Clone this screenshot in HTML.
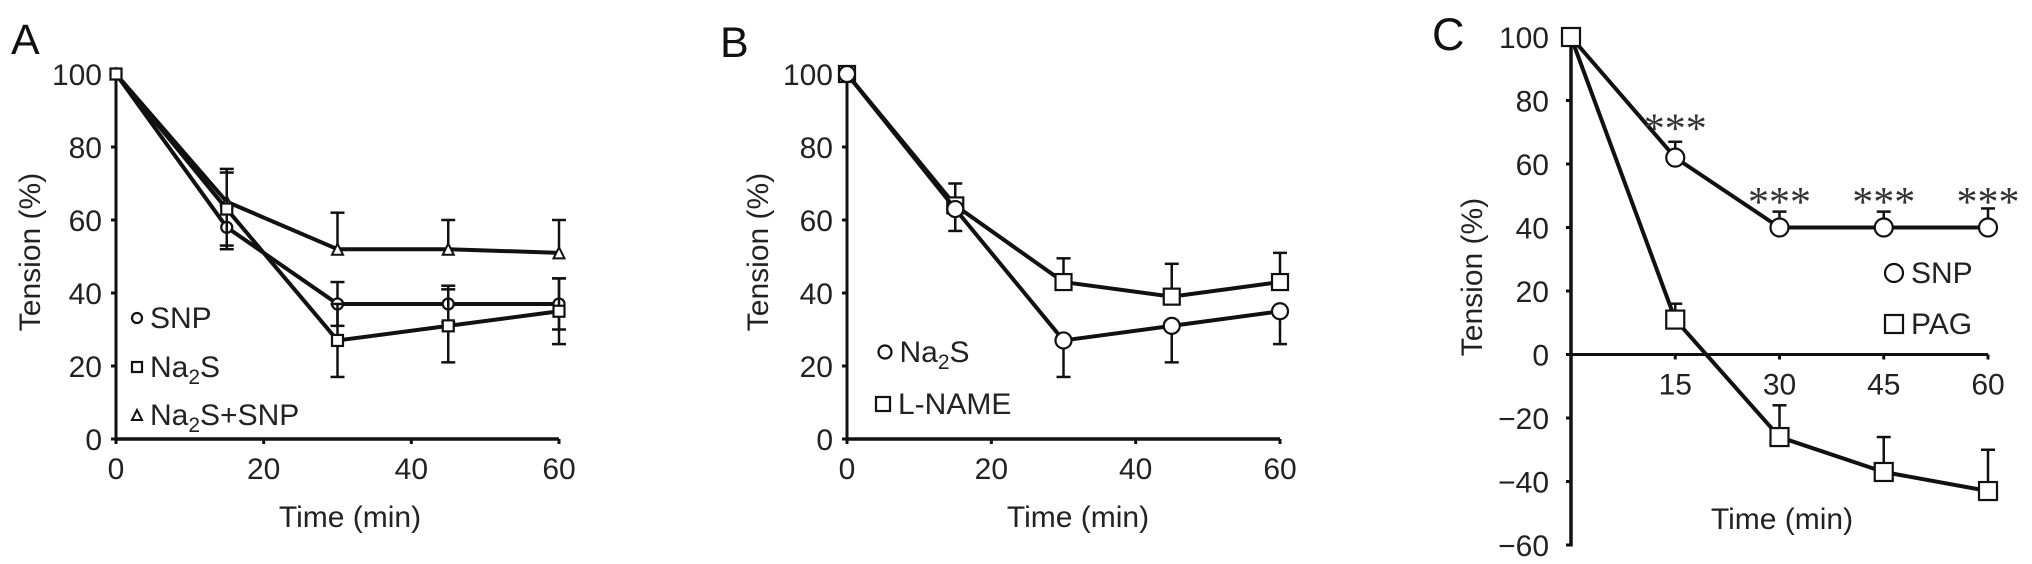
<!DOCTYPE html>
<html><head><meta charset="utf-8"><style>
html,body{margin:0;padding:0;background:#fff;width:2032px;height:564px;overflow:hidden}
svg{display:block;font-family:"Liberation Sans",sans-serif}
</style></head><body>
<svg id="chart" width="2032" height="564" viewBox="0 0 2032 564" xmlns="http://www.w3.org/2000/svg"></svg>
<script>
// ---- data ----
const timesAB = [0, 15, 30, 45, 60];
const timesC = [0, 15, 30, 45, 60];
// Panel A
const aSNP = [100, 58, 37, 37, 37];
const aSNPerr = [0, 6, 6, 5, 7];
const aNa2S = [100, 63, 27, 31, 35];
const aNa2Serr = [0, 10, 10, 10, 9];
const aCombo = [100, 65, 52, 52, 51];
const aComboErr = [0, 9, 10, 8, 9];
// Panel B
const bNa2S = [100, 63, 27, 31, 35];
const bNa2Serr = [0, 6, 10, 10, 9];
const bLNAME = [100, 64, 43, 39, 43];
const bLNAMEerr = [0, 6, 6.5, 9, 8];
// Panel C
const cSNP = [100, 62, 40, 40, 40];
const cSNPerr = [0, 5, 5, 5, 6];
const cPAG = [100, 11, -26, -37, -43];
const cPAGerr = [0, 5, 10, 11, 13];
const cStarY = [null, 73, 50, 50, 50];
const ticksAB_Y = [0, 20, 40, 60, 80, 100];
const ticksAB_X = [0, 20, 40, 60];
const ticksC_Y = [-60, -40, -20, 0, 20, 40, 60, 80, 100];
const ticksC_X = [15, 30, 45, 60];

const svg = document.getElementById('chart');
const NS = 'http://www.w3.org/2000/svg';
function el(tag, attrs, parent) {
  const e = document.createElementNS(NS, tag);
  for (const k in attrs) e.setAttribute(k, attrs[k]);
  (parent || svg).appendChild(e);
  return e;
}
function txt(s, attrs, parent) { const t = el('text', attrs, parent); t.textContent = s; return t; }

function marker(shape, x, y, size, g) {
  let m;
  if (shape === 'circle') m = el('circle', {cx: x, cy: y, r: size / 2, fill: '#fff', stroke: '#111', 'stroke-width': 2.2}, g);
  else if (shape === 'square') m = el('rect', {x: x - size / 2, y: y - size / 2, width: size, height: size, fill: '#fff', stroke: '#111', 'stroke-width': 2.2}, g);
  else m = el('polygon', {points: `${x},${y - size / 2} ${x + size / 2},${y + size / 2} ${x - size / 2},${y + size / 2}`, fill: '#fff', stroke: '#111', 'stroke-width': 2}, g);
  return m;
}

function series(g, xs, ys, errs, sx, sy, shape, size, dirUp, dirDown, name) {
  const sg = el('g', {}, g);
  
  
  xs.forEach((t, i) => {
    if (!errs[i]) return;
    const x = sx(t);
    if (dirUp) {
      const l = el('line', {x1: x, x2: x, y1: sy(ys[i]), y2: sy(ys[i] + errs[i]), stroke: '#111', 'stroke-width': 2.5}, sg);
      
      
      el('line', {x1: x - 7, x2: x + 7, y1: sy(ys[i] + errs[i]), y2: sy(ys[i] + errs[i]), stroke: '#111', 'stroke-width': 2.5}, sg);
    }
    if (dirDown) {
      const l = el('line', {x1: x, x2: x, y1: sy(ys[i]), y2: sy(ys[i] - errs[i]), stroke: '#111', 'stroke-width': 2.5}, sg);
      
      
      el('line', {x1: x - 7, x2: x + 7, y1: sy(ys[i] - errs[i]), y2: sy(ys[i] - errs[i]), stroke: '#111', 'stroke-width': 2.5}, sg);
    }
  });
  const pts = xs.map((t, i) => sx(t) + ',' + sy(ys[i])).join(' ');
  const pl = el('polyline', {points: pts, fill: 'none', stroke: '#111', 'stroke-width': 4, 'stroke-linejoin': 'round'}, sg);
  
  
  xs.forEach((t, i) => {
    const m = marker(shape, sx(t), sy(ys[i]), size, sg);
    
    
  });
}

function legendItem(g, shape, x, y, size, label, sub, rest, name) {
  const lg = el('g', {}, g);
  
  
  marker(shape, x, y, size, lg);
  const t = el('text', {x: x + size / 2 + 8, y: y + 10, 'font-size': 30, fill: '#222'}, lg);
  t.appendChild(document.createTextNode(label));
  if (sub) {
    const ts = el('tspan', {'font-size': 21, dy: 7}, t); ts.textContent = sub;
    const tr = el('tspan', {dy: -7}, t); tr.textContent = rest;
  }
}

function axesAB(g, x0, x1, sx, sy) {
  const ax = el('g', {}, g);
  
  
  el('line', {x1: x0, x2: x0, y1: sy(100), y2: sy(0) + 1.5, stroke: '#111', 'stroke-width': 3}, ax);
  el('line', {x1: x0, x2: x1, y1: sy(0), y2: sy(0), stroke: '#111', 'stroke-width': 3.5}, ax);
  ticksAB_Y.forEach(v => {
    el('line', {x1: x0 - 5, x2: x0, y1: sy(v), y2: sy(v), stroke: '#111', 'stroke-width': 3}, ax);
    const t = txt(String(v), {x: x0 - 14, y: sy(v) + 11, 'text-anchor': 'end', 'font-size': 30, fill: '#222'}, ax);
    
    
  });
  ticksAB_X.forEach(v => {
    el('line', {x1: sx(v), x2: sx(v), y1: sy(0), y2: sy(0) + 5, stroke: '#111', 'stroke-width': 3}, ax);
    const t = txt(String(v), {x: sx(v), y: sy(0) + 40, 'text-anchor': 'middle', 'font-size': 30, fill: '#222'}, ax);
    
    
  });
}

// ---------- Panel A ----------
(function () {
  const g = el('g', {});
  
  
  const X0 = 116, X1 = 559;
  const sx = t => X0 + (X1 - X0) * t / 60;
  const sy = v => 439 - v * 3.65;
  txt('A', {x: 11, y: 54, 'font-size': 43, fill: '#111'}, g);
  axesAB(g, X0, X1, sx, sy);
  const yt = txt('Tension (%)', {x: 0, y: 0, transform: 'translate(40,252) rotate(-90)', 'text-anchor': 'middle', 'font-size': 30, fill: '#222'}, g);
  
  const xt = txt('Time (min)', {x: 350, y: 527, 'text-anchor': 'middle', 'font-size': 30, fill: '#222'}, g);
  
  series(g, timesAB, aCombo, aComboErr, sx, sy, 'triangle', 11, true, false, 'series-na2s-snp');
  series(g, timesAB, aSNP, aSNPerr, sx, sy, 'circle', 11, true, true, 'series-snp');
  series(g, timesAB, aNa2S, aNa2Serr, sx, sy, 'square', 11, true, true, 'series-na2s');
  legendItem(g, 'circle', 137, 318, 10, 'SNP', null, null, 'legend-snp');
  legendItem(g, 'square', 137, 367, 10, 'Na', '2', 'S', 'legend-na2s');
  legendItem(g, 'triangle', 137, 415, 10, 'Na', '2', 'S+SNP', 'legend-na2s-snp');
})();

// ---------- Panel B ----------
(function () {
  const g = el('g', {});
  
  
  const X0 = 847, X1 = 1280;
  const sx = t => X0 + (X1 - X0) * t / 60;
  const sy = v => 439 - v * 3.65;
  txt('B', {x: 720, y: 57, 'font-size': 43, fill: '#111'}, g);
  axesAB(g, X0, X1, sx, sy);
  const yt = txt('Tension (%)', {x: 0, y: 0, transform: 'translate(768,252) rotate(-90)', 'text-anchor': 'middle', 'font-size': 30, fill: '#222'}, g);
  
  const xt = txt('Time (min)', {x: 1078, y: 527, 'text-anchor': 'middle', 'font-size': 30, fill: '#222'}, g);
  
  series(g, timesAB, bLNAME, bLNAMEerr, sx, sy, 'square', 16, true, false, 'series-l-name');
  series(g, timesAB, bNa2S, bNa2Serr, sx, sy, 'circle', 16, false, true, 'series-na2s');
  legendItem(g, 'circle', 885, 352, 13, 'Na', '2', 'S', 'legend-na2s');
  legendItem(g, 'square', 883, 404, 14, 'L-NAME', null, null, 'legend-l-name');
})();

// ---------- Panel C ----------
(function () {
  const g = el('g', {});
  
  
  const X0 = 1571, X1 = 1988;
  const sx = t => X0 + (X1 - X0) * t / 60;
  const sy = v => 354.5 - v * 3.175;
  txt('C', {x: 1432, y: 50, 'font-size': 45, fill: '#111'}, g);
  const ax = el('g', {}, g);
  
  
  el('line', {x1: X0, x2: X0, y1: sy(100), y2: sy(-60) + 1.5, stroke: '#111', 'stroke-width': 3.5}, ax);
  el('line', {x1: X0, x2: X1, y1: sy(0), y2: sy(0), stroke: '#111', 'stroke-width': 3}, ax);
  ticksC_Y.forEach(v => {
    el('line', {x1: X0 - 5, x2: X0, y1: sy(v), y2: sy(v), stroke: '#111', 'stroke-width': 3}, ax);
    const t = txt(v < 0 ? '\u2212' + Math.abs(v) : String(v), {x: X0 - 22, y: sy(v) + 11, 'text-anchor': 'end', 'font-size': 30, fill: '#222'}, ax);
    
    
  });
  ticksC_X.forEach(v => {
    el('line', {x1: sx(v), x2: sx(v), y1: sy(0), y2: sy(0) + 5, stroke: '#111', 'stroke-width': 3}, ax);
    const t = txt(String(v), {x: sx(v), y: sy(0) + 40, 'text-anchor': 'middle', 'font-size': 30, fill: '#222'}, ax);
    
    
  });
  const yt = txt('Tension (%)', {x: 0, y: 0, transform: 'translate(1482,277) rotate(-90)', 'text-anchor': 'middle', 'font-size': 30, fill: '#222'}, g);
  
  const xt = txt('Time (min)', {x: 1782, y: 529, 'text-anchor': 'middle', 'font-size': 30, fill: '#222'}, g);
  
  series(g, timesC, cSNP, cSNPerr, sx, sy, 'circle', 18, true, false, 'series-snp');
  series(g, timesC, cPAG, cPAGerr, sx, sy, 'square', 18, true, false, 'series-pag');
  timesC.forEach((t, i) => {
    if (cStarY[i] === null) return;
    const s = txt('***', {x: sx(t), y: sy(cStarY[i]) + 20, 'text-anchor': 'middle', 'font-size': 42, 'font-family': '"Liberation Serif", serif', fill: '#333'}, g);
    
    
  });
  legendItem(g, 'circle', 1894, 273, 18, 'SNP', null, null, 'legend-snp');
  legendItem(g, 'square', 1894, 324, 18, 'PAG', null, null, 'legend-pag');
})();
</script>
</body></html>
